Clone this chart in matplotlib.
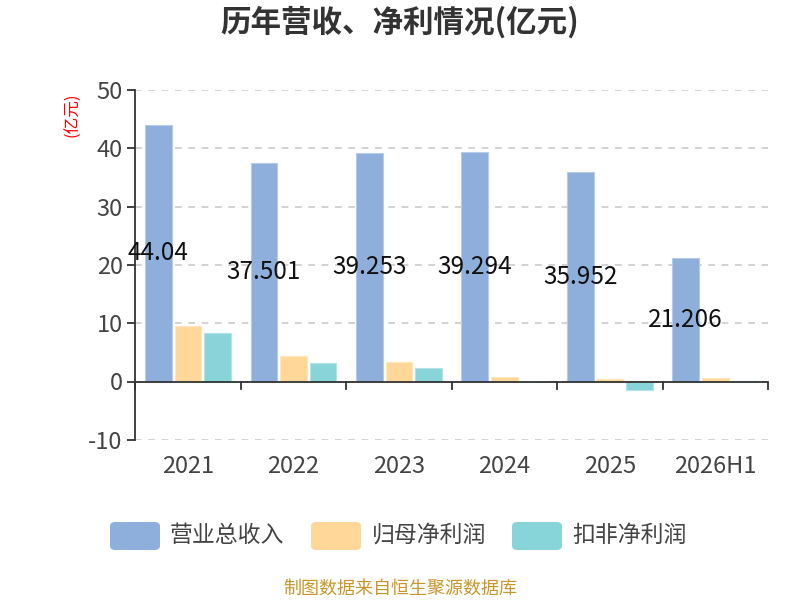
import numpy as np
import matplotlib
matplotlib.use('Agg')
import matplotlib.pyplot as plt
from matplotlib.patches import FancyBboxPatch

plt.rcParams['font.family'] = ['Noto Sans CJK SC', 'DejaVu Sans']
plt.rcParams['axes.unicode_minus'] = False

years   = ['2021', '2022', '2023', '2024', '2025', '2026H1']
revenue = [44.04, 37.501, 39.253, 39.294, 35.952, 21.206]
net     = [9.6, 4.3, 3.3, 0.85, 0.4, 0.55]
net_ded = [8.4, 3.1, 2.3, 0.0, -1.43, 0.1]
names   = ['营业总收入', '归母净利润', '扣非净利润']
colors  = ['#8eaedb', '#ffd899', '#88d5d9']
edges   = ['#b5cbe9', '#ffe6bd', '#b2e4e6']

fig = plt.figure(figsize=(8, 6), dpi=100)
ax = fig.add_axes([0.169, 0.267, 0.791, 0.583])

x = np.arange(len(years))
w = 0.2525
for k, vals in enumerate([revenue, net, net_ded]):
  ax.bar(x + (k - 1) * 0.28, vals, w, color=colors[k], edgecolor=edges[k], linewidth=0.8, zorder=3)

# value labels in middle of revenue bars
for i, v in enumerate(revenue):
  ax.text(x[i] - 0.28, v / 2, f'{v:g}', ha='center', va='center', fontsize=17.5, color='#111111', zorder=5)

ax.set_xlim(-0.5, len(years) - 0.5)
ax.set_ylim(-10, 50)
ax.set_yticks(range(-10, 51, 10))
ax.yaxis.grid(True, linestyle=(0, (4, 4)), color='#cccccc', linewidth=1.2, zorder=0)
ax.set_axisbelow(True)

for s in ['top', 'right', 'bottom']:
  ax.spines[s].set_visible(False)
ax.spines['left'].set_color('#333333')
ax.spines['left'].set_linewidth(1.3)
ax.tick_params(axis='y', colors='#333333', labelsize=17, length=6, width=1.3, labelcolor='#444444', pad=3)

# x axis line at zero with ticks at category boundaries
ax.axhline(0, color='#333333', linewidth=1.3, zorder=4)
for b in np.arange(-0.5, len(years), 1.0):
  ax.plot([b, b], [0, -1.3], color='#333333', linewidth=1.3, zorder=4, clip_on=False)
ax.set_xticks(x)
ax.set_xticklabels(years)
ax.tick_params(axis='x', length=0, labelsize=17, labelcolor='#444444', pad=11)

ax.text(-0.098, 0.929, '(亿元)', transform=ax.transAxes, rotation=90, color='red', fontsize=12, ha='center', va='center')

fig.text(0.5, 0.962, '历年营收、净利情况(亿元)', ha='center', va='center', fontsize=22, fontweight='bold', color='#333333')

# legend with rounded boxes
bx = [110, 311, 512]
tx = [170, 372, 572]
for k in range(3):
  box = FancyBboxPatch((bx[k] / 800, 1 - 550 / 600), 50 / 800, 28 / 600, boxstyle='round,pad=0,rounding_size=0.007',
                       transform=fig.transFigure, facecolor=colors[k], edgecolor='none')
  fig.patches.append(box)
  fig.text(tx[k] / 800, 1 - 535 / 600, names[k], ha='left', va='center', fontsize=16.5, color='#444444')

fig.text(0.5, 1 - 589 / 600, '制图数据来自恒生聚源数据库', ha='center', va='center', fontsize=13, color='#c8962a')

fig.savefig('out.png', dpi=100)
